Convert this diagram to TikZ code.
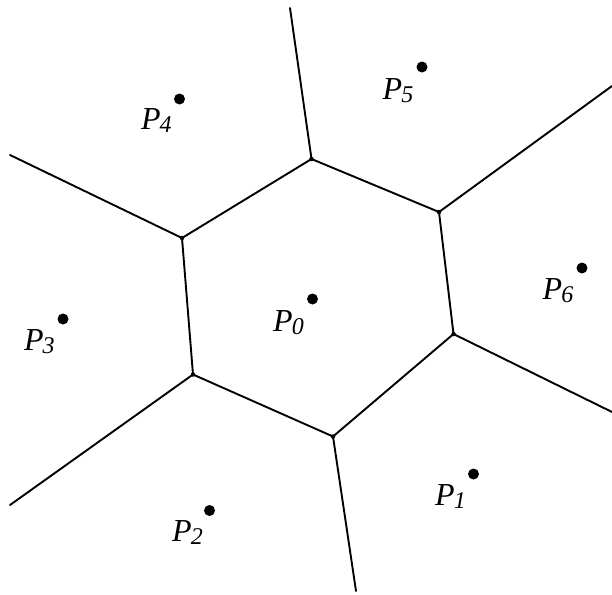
\documentclass[tikz,border=0pt]{standalone}
\usepackage{fontspec}
\setmainfont{Liberation Serif}
\newcommand{\site}[1]{P\kern-1pt\raisebox{-3pt}{\fontsize{24}{24}\selectfont\itshape #1}}
\begin{document}
\begin{tikzpicture}[x=1pt,y=-1pt,
  edge/.style={line width=1.9pt, line cap=round, line join=round},
  sitedot/.style={circle, fill=black, inner sep=0pt, minimum size=11pt},
  vtx/.style={circle, fill=black, inner sep=0pt, minimum size=4.5pt},
  lbl/.style={anchor=base west, inner sep=0pt, font=\fontsize{32}{32}\selectfont\itshape}]
\useasboundingbox (0,0) rectangle (612,594);
% Voronoi vertices
\coordinate (A) at (311.5,159);
\coordinate (B) at (439,212);
\coordinate (C) at (453.5,334);
\coordinate (D) at (333,436.5);
\coordinate (E) at (193,374.5);
\coordinate (F) at (182,238);
% free ends of rays
\coordinate (Ae) at (290,8);
\coordinate (Be) at (612,86);
\coordinate (Ce) at (612,412);
\coordinate (De) at (356,591);
\coordinate (Ee) at (10,505);
\coordinate (Fe) at (10,155);
% cells
\draw[edge] (A) -- (B) -- (C) -- (D) -- (E) -- (F) -- cycle;
\draw[edge] (A) -- (Ae);
\draw[edge] (B) -- (Be);
\draw[edge] (C) -- (Ce);
\draw[edge] (D) -- (De);
\draw[edge] (E) -- (Ee);
\draw[edge] (F) -- (Fe);
\foreach \v in {A,B,C,D,E,F} \node[vtx] at (\v) {};
% sites
\node[sitedot] (p0) at (312.5,299) {};
\node[sitedot] (p1) at (473.5,474) {};
\node[sitedot] (p2) at (209.5,510.5) {};
\node[sitedot] (p3) at (63,319) {};
\node[sitedot] (p4) at (179.5,99) {};
\node[sitedot] (p5) at (422,67) {};
\node[sitedot] (p6) at (582,268) {};
% labels
\node[lbl] (l0) at (273,331) {\site{0}};
\node[lbl] (l1) at (435,505) {\site{1}};
\node[lbl] (l2) at (172,541.5) {\site{2}};
\node[lbl] (l3) at (24,350) {\site{3}};
\node[lbl] (l4) at (141,129.5) {\site{4}};
\node[lbl] (l5) at (382.5,99) {\site{5}};
\node[lbl] (l6) at (542.5,299) {\site{6}};
\end{tikzpicture}
\end{document}
